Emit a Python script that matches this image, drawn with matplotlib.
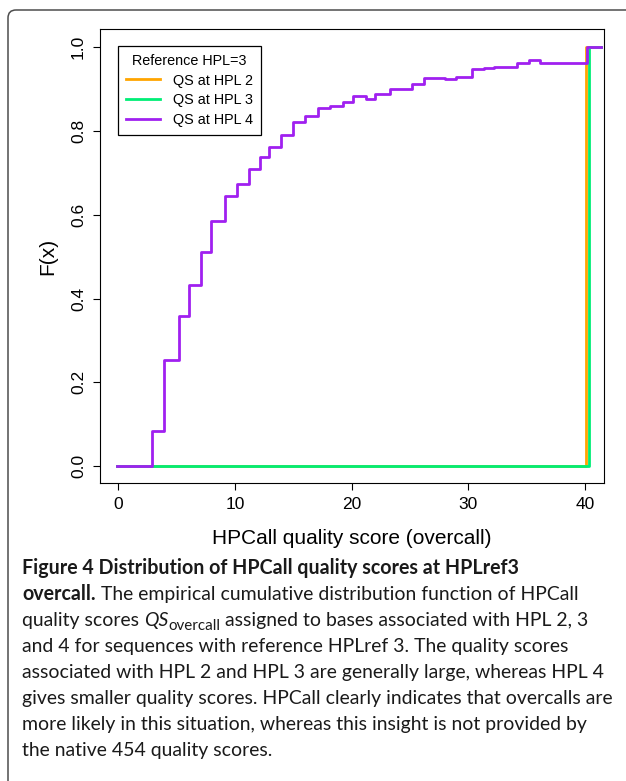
import matplotlib
matplotlib.use("Agg")
import matplotlib.pyplot as plt
from matplotlib.patches import FancyBboxPatch
from matplotlib.transforms import IdentityTransform
from matplotlib.legend_handler import HandlerLine2D

# ECDF steps: jump positions and the level after each jump
hpl4_x = [2.86, 3.95, 5.23, 6.09, 7.07, 7.92, 9.15, 10.15, 11.17, 12.12, 12.95,
          13.93, 15.01, 16.04, 17.1, 18.16, 19.24, 20.1, 21.24, 22.0, 23.3, 25.2,
          26.2, 28.0, 28.96, 30.3, 31.36, 32.2, 34.2, 35.25, 36.17, 40.2]
hpl4_y = [0.084, 0.253, 0.359, 0.432, 0.512, 0.585, 0.644, 0.674, 0.710, 0.738,
          0.761, 0.790, 0.822, 0.835, 0.854, 0.859, 0.869, 0.883, 0.877, 0.887,
          0.901, 0.912, 0.926, 0.924, 0.928, 0.947, 0.951, 0.953, 0.961, 0.968,
          0.963, 1.0]
hpl2_x = [40.08]
hpl2_y = [1.0]
hpl3_x = [40.35]
hpl3_y = [1.0]
x_from, x_to = -0.13, 41.4

labels = ["QS at HPL 2", "QS at HPL 3", "QS at HPL 4"]
colors = ["#FFA500", "#00EE76", "#A020F0"]
xticks = [0, 10, 20, 30, 40]
yticks = [0.0, 0.2, 0.4, 0.6, 0.8, 1.0]

caption_bold1 = "Figure 4 Distribution of HPCall quality scores at HPLref3"
caption_bold2 = "overcall."
caption_rest2 = " The empirical cumulative distribution function of HPCall"
caption_lines = [
    "and 4 for sequences with reference HPLref 3. The quality scores",
    "associated with HPL 2 and HPL 3 are generally large, whereas HPL 4",
    "gives smaller quality scores. HPCall clearly indicates that overcalls are",
    "more likely in this situation, whereas this insight is not provided by",
    "the native 454 quality scores.",
]

W, H = 626, 781
CHART = "Liberation Sans"
CAP = "Lato"

fig = plt.figure(figsize=(W / 100, H / 100), dpi=100)
ax = fig.add_axes([100 / W, 1 - 483 / H, 504 / W, 454 / H])


def steps(xs, ys):
    return [x_from] + xs + [x_to], [0.0] + ys + [ys[-1]]


for (xs, ys), lab, col in zip([(hpl2_x, hpl2_y), (hpl3_x, hpl3_y), (hpl4_x, hpl4_y)],
                              labels, colors):
    sx, sy = steps(xs, ys)
    ax.step(sx, sy, where="post", color=col, lw=2.0, label=lab)

ax.set_xlim(-1.57, 41.65)
ax.set_ylim(-0.04, 1.043)
ax.set_xticks(xticks)
ax.set_xticklabels([str(t) for t in xticks], family=CHART, fontsize=12.5)
ax.set_yticks(yticks)
ax.set_yticklabels([f"{t:.1f}" for t in yticks], family=CHART, fontsize=12.5,
                   rotation=90, va="center")
ax.tick_params(direction="out", length=5, width=0.8, pad=5)
ax.tick_params(axis="y", pad=5)
for s in ax.spines.values():
    s.set_linewidth(0.8)
ax.set_xlabel("HPCall quality score (overcall)", family=CHART, fontsize=15, labelpad=12)
ax.set_ylabel("F(x)", family=CHART, fontsize=15, labelpad=10)


class ShortLine(HandlerLine2D):
    # R-style legend: line segment sits a bit in from the left border
    def create_artists(self, *args, **kw):
        arts = super().create_artists(*args, **kw)
        for a in arts:
            xd = a.get_xdata()
            if len(xd) == 2:
                a.set_xdata([xd[0] + (xd[1] - xd[0]) * 0.17, xd[1]])
                a.set_drawstyle("default")
        return arts


leg = ax.legend(loc="upper left", bbox_to_anchor=(0.036, 0.963), borderaxespad=0,
                title="Reference HPL=3", prop={"family": CHART, "size": 10.4},
                title_fontproperties={"family": CHART, "size": 10.4},
                fancybox=False, framealpha=1, edgecolor="black",
                handlelength=2.34, handletextpad=0.9, labelspacing=0.4,
                borderpad=0.55, handler_map={plt.Line2D: ShortLine()})
leg.get_frame().set_linewidth(0.9)

# outer rounded frame (open at right and bottom, cut by the page)
frame = FancyBboxPatch((8, -40), 700, H - 10 + 40, boxstyle="round,pad=0,rounding_size=8",
                       transform=IdentityTransform(), fill=False, ec="#4d4d4d", lw=1.1)
fig.add_artist(frame)

# caption
r = fig.canvas.get_renderer()


def fit(s, target, weight):
    t = fig.text(0, 0, s, fontsize=10, family=CAP, weight=weight)
    w = t.get_window_extent(r).width
    t.remove()
    return 10 * target / w


reg = fit(caption_lines[2], 590, "normal")
bold = fit(caption_bold1, 495, "bold")
x0 = 22
base = [574 + 26 * i for i in range(8)]


def put(x, y, s, **kw):
    t = fig.text(x / W, 1 - y / H, s, family=CAP, va="baseline", **kw)
    return t.get_window_extent(r).x1


put(x0, base[0], caption_bold1, fontsize=bold, weight="bold", color="#1a1a1a")
xe = put(x0, base[1], caption_bold2, fontsize=bold, weight="bold", color="#1a1a1a")
put(xe, base[1], caption_rest2, fontsize=reg, color="#1a1a1a")
xe = put(x0, base[2], "quality scores ", fontsize=reg, color="#1a1a1a")
xe = put(xe, base[2], "QS", fontsize=reg, style="italic", color="#1a1a1a")
xe = put(xe, base[2] + 4, "overcall", fontsize=reg * 0.78, color="#1a1a1a")
put(xe, base[2], " assigned to bases associated with HPL 2, 3", fontsize=reg, color="#1a1a1a")
for i, line in enumerate(caption_lines):
    put(x0, base[3 + i], line, fontsize=reg, color="#1a1a1a")

fig.savefig("out.png", dpi=100)
